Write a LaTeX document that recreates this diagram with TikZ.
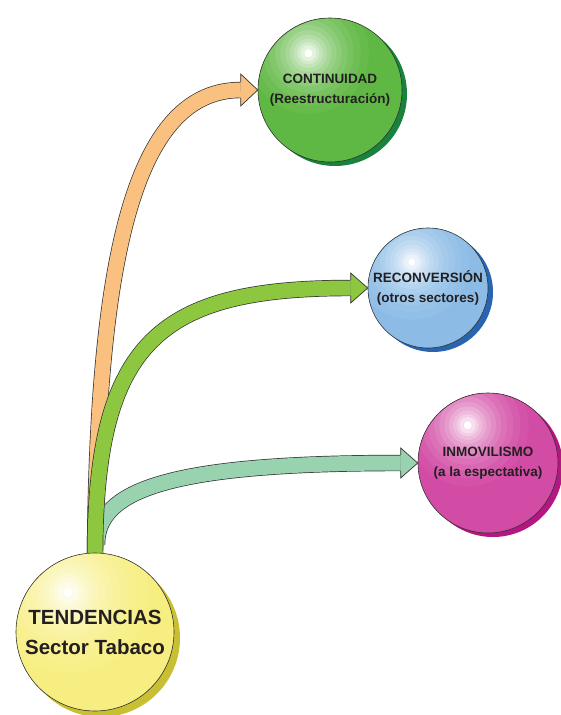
\documentclass[tikz,border=0pt]{standalone}
\usepackage{fontspec}
\setmainfont{Liberation Sans}
\usetikzlibrary{calc,backgrounds}
\definecolor{txt}{RGB}{35,31,32}
\definecolor{orangeband}{RGB}{250,192,128}
\definecolor{greenband}{RGB}{141,198,63}
\definecolor{tealband}{RGB}{152,210,174}
\definecolor{gA}{RGB}{96,184,68}
\definecolor{gS}{RGB}{25,130,60}
\definecolor{bA}{RGB}{140,188,230}
\definecolor{bS}{RGB}{40,100,175}
\definecolor{mA}{RGB}{210,76,165}
\definecolor{mS}{RGB}{180,22,130}
\definecolor{yA}{RGB}{247,238,130}
\definecolor{yS}{RGB}{200,192,50}
% #1 node, #2 radius, #3 colour, #4 dx fraction, #5 dy fraction, #6 ring scale
\newcommand\ballfill[6]{%
  \begin{scope}
    \clip (#1.center) circle ({#2*1pt});
    \fill[#3] (#1.center) circle ({#2*1pt});
    \foreach \f/\p in {0.60/96,0.52/91,0.45/85,0.39/79,0.33/72,0.28/64,0.23/56,0.185/47,0.145/38,0.11/28,0.08/18}
      \fill[#3!\p!white] ($(#1.center)+(#4*#2,#5*#2)$) circle ({\f*#6*#2*1pt});
    \fill[white] ($(#1.center)+(#4*#2,#5*#2)$) circle ({0.055*#2*1pt});
  \end{scope}}
\tikzset{
  ball/.style={circle, draw=black!80, line width=0.6pt, inner sep=0pt, align=center,
    font=\bfseries\fontsize{13.5}{20}\selectfont, text=txt},
  band/.style={draw=black!80, line width=0.7pt, double=#1, double distance=15pt},
  headline/.style={draw=black!80, line width=0.7pt, line join=miter}
}
\begin{document}
\begin{tikzpicture}[x=1pt,y=-1pt]
\useasboundingbox (0,0) rectangle (560,715);
% circles (outline and text)
\node[ball, minimum size=144pt] (cont) at (330,90) {CONTINUIDAD\\(Reestructuración)};
\node[ball, minimum size=120pt] (reconv) at (428,288) {RECONVERSIÓN\\(otros sectores)};
\node[ball, minimum size=140pt] (inmov) at (488,463) {INMOVILISMO\\(a la espectativa)};
\node[ball, minimum size=158pt, font=\bfseries\fontsize{20.5}{30}\selectfont] (tend) at (95,632) {TENDENCIAS\\Sector Tabaco};
\begin{pgfonlayer}{background}
  % orange arrow
  \coordinate (oT) at (cont.west);
  \coordinate (oB) at ($(oT)+(-17,0)$);
  \coordinate (oS) at ($(tend.north)+(0,4)$);
  \draw[band=orangeband] (oS) .. controls ($(oS)+(2,-316)$) and ($(oB)+(-101,0)$) .. (oB);
  \fill[orangeband] ($(oB)+(0,-16)$) -- (oT) -- ($(oB)+(0,16)$) -- cycle;
  \draw[headline] ($(oB)+(0,-7.85)$) -- ($(oB)+(0,-16)$) -- (oT) -- ($(oB)+(0,16)$) -- ($(oB)+(0,7.85)$);
  % teal arrow
  \coordinate (tT) at (inmov.west);
  \coordinate (tB) at ($(tT)+(-17,0)$);
  \coordinate (tS) at ($(tend.north)+(2,-8)$);
  \draw[band=tealband] (tS) .. controls ($(tS)+(0,-55)$) and ($(tB)+(-231,0)$) .. (tB);
  \fill[tealband] ($(tB)+(0,-15)$) -- (tT) -- ($(tB)+(0,15)$) -- cycle;
  \draw[headline] ($(tB)+(0,-7.85)$) -- ($(tB)+(0,-15)$) -- (tT) -- ($(tB)+(0,15)$) -- ($(tB)+(0,7.85)$);
  % green arrow
  \coordinate (gT) at (reconv.west);
  \coordinate (gB) at ($(gT)+(-17,0)$);
  \coordinate (gS0) at ($(tend.north)+(0,4)$);
  \draw[band=greenband] (gS0) .. controls ($(gS0)+(0,-216)$) and ($(gB)+(-191,0)$) .. (gB);
  \fill[greenband] ($(gB)+(0,-15)$) -- (gT) -- ($(gB)+(0,15)$) -- cycle;
  \draw[headline] ($(gB)+(0,-7.85)$) -- ($(gB)+(0,-15)$) -- (gT) -- ($(gB)+(0,15)$) -- ($(gB)+(0,7.85)$);
  % shadows
  \fill[gS] ($(cont)+(5,4)$) circle (72pt);
  \fill[bS] ($(reconv)+(5,4)$) circle (60pt);
  \fill[mS] ($(inmov)+(5,4)$) circle (70pt);
  \fill[yS] ($(tend)+(6,6)$) circle (79pt);
  % ball fills
  \ballfill{cont}{72}{gA}{-0.3}{-0.51}{1.4}
  \ballfill{reconv}{60}{bA}{-0.27}{-0.43}{1.6}
  \ballfill{inmov}{70}{mA}{-0.29}{-0.54}{1.45}
  \ballfill{tend}{79}{yA}{-0.34}{-0.5}{1.7}
\end{pgfonlayer}
\end{tikzpicture}
\end{document}
